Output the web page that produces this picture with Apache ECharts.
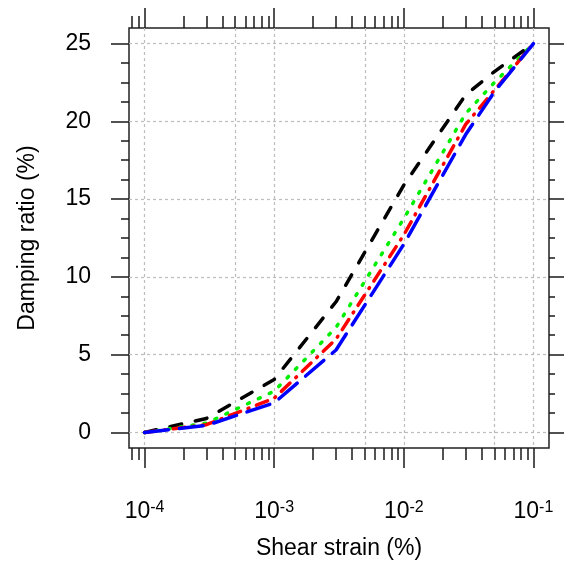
<!DOCTYPE html>
<html>
<head>
<meta charset="utf-8">
<script src="https://cdn.jsdelivr.net/npm/echarts@6/dist/echarts.min.js"></script>
<style>
html,body{margin:0;padding:0;background:#fff;}
#chart{width:566px;height:565px;}
</style>
</head>
<body>
<div id="chart"></div>
<script>
// ---- data ----
const strains = [1e-4, 3e-4, 1e-3, 3e-3, 1e-2, 3e-2, 5e-2, 1e-1];
const dampBlack = [0, 0.9, 3.4, 8.4, 15.9, 21.7, 23.2, 25];
const dampGreen = [0, 0.6, 2.65, 6.75, 13.75, 20.5, 22.5, 25];
const dampRed   = [0, 0.5, 2.2, 6.0, 12.7, 19.8, 22.0, 25];
const dampBlue  = [0, 0.45, 1.9, 5.3, 12.1, 19.15, 21.9, 25];

const xMajorTicks = [1e-4, 1e-3, 1e-2, 1e-1];
const xMinorTicks = [8e-5, 9e-5,
  2e-4, 3e-4, 4e-4, 5e-4, 6e-4, 7e-4, 8e-4, 9e-4,
  2e-3, 3e-3, 4e-3, 5e-3, 6e-3, 7e-3, 8e-3, 9e-3,
  2e-2, 3e-2, 4e-2, 5e-2, 6e-2, 7e-2, 8e-2, 9e-2];
const xGridValues = [1e-4, 5e-4, 1e-3, 5e-3, 1e-2, 5e-2, 1e-1];
const yMajorTicks = [0, 5, 10, 15, 20, 25];
const yMinorTicks = [1.25, 2.5, 3.75, 6.25, 7.5, 8.75, 11.25, 12.5, 13.75,
  16.25, 17.5, 18.75, 21.25, 22.5, 23.75];

const xMin = Math.pow(10, -4.12), xMax = Math.pow(10, -0.88);
const yMin = -1, yMax = 26;

const FONT = 'Liberation Sans, Arial, sans-serif';
const tickColor = '#1a1a1a';

function pairs(ys) { return strains.map((s, i) => [s, ys[i]]); }

function xAx(extra) {
  return Object.assign({
    type: 'log', logBase: 10, min: xMin, max: xMax, gridIndex: 0,
    axisLine: { show: false, onZero: false },
    axisLabel: { show: false },
    splitLine: { show: false },
    axisTick: { show: false }
  }, extra);
}
function yAx(extra) {
  return Object.assign({
    type: 'value', min: yMin, max: yMax, gridIndex: 0,
    axisLine: { show: false, onZero: false },
    axisLabel: { show: false },
    splitLine: { show: false },
    axisTick: { show: false }
  }, extra);
}

const chart = echarts.init(document.getElementById('chart'), null, { renderer: 'canvas' });
const option = {
  animation: false,
  backgroundColor: '#fff',
  grid: {
    left: 129, right: 17, top: 28, bottom: 117,
    show: true, borderColor: '#222', borderWidth: 1.5, backgroundColor: 'transparent',
    containLabel: false, outerBoundsMode: 'none'
  },
  xAxis: [
    xAx({
      position: 'bottom',
      name: 'Shear strain (%)', nameLocation: 'middle', nameGap: 89,
      nameTextStyle: { fontSize: 23, color: '#000', fontFamily: FONT },
      axisTick: { show: true, inside: false, length: 20, customValues: xMajorTicks,
        lineStyle: { color: tickColor, width: 1.5 } },
      axisLabel: {
        show: true, margin: 52, customValues: xMajorTicks,
        formatter: function (v) {
          const e = Math.round(Math.log10(v));
          return '{b|10}{s|' + e + '}';
        },
        rich: {
          b: { fontSize: 23, fontFamily: FONT, color: '#000', verticalAlign: 'bottom' },
          s: { fontSize: 16, fontFamily: FONT, color: '#000', verticalAlign: 'top' }
        }
      }
    }),
    xAx({ position: 'bottom',
      axisTick: { show: true, inside: false, length: 12, customValues: xMinorTicks,
        lineStyle: { color: tickColor, width: 1.5 } } }),
    xAx({ position: 'top',
      axisTick: { show: true, inside: false, length: 20, customValues: xMajorTicks,
        lineStyle: { color: tickColor, width: 1.5 } } }),
    xAx({ position: 'top',
      axisTick: { show: true, inside: false, length: 12, customValues: xMinorTicks,
        lineStyle: { color: tickColor, width: 1.5 } } }),
    xAx({ position: 'bottom',
      axisTick: { show: false, customValues: xGridValues },
      splitLine: { show: true, lineStyle: { color: '#bdbdbd', width: 1.2, type: [3, 3] } } })
  ],
  yAxis: [
    yAx({
      position: 'left',
      name: 'Damping ratio (%)', nameLocation: 'middle', nameGap: 90,
      nameTextStyle: { fontSize: 23, color: '#000', fontFamily: FONT },
      axisTick: { show: true, inside: false, length: 18, customValues: yMajorTicks,
        lineStyle: { color: tickColor, width: 1.5 } },
      axisLabel: { show: true, margin: 38, customValues: yMajorTicks,
        fontSize: 23, fontFamily: FONT, color: '#000' },
      splitLine: { show: true, lineStyle: { color: '#bdbdbd', width: 1.2, type: [3, 3] } }
    }),
    yAx({ position: 'left',
      axisTick: { show: true, inside: false, length: 8, customValues: yMinorTicks,
        lineStyle: { color: tickColor, width: 1.5 } } }),
    yAx({ position: 'right',
      axisTick: { show: true, inside: false, length: 15, customValues: yMajorTicks,
        lineStyle: { color: tickColor, width: 1.5 } } }),
    yAx({ position: 'right',
      axisTick: { show: true, inside: false, length: 6, customValues: yMinorTicks,
        lineStyle: { color: tickColor, width: 1.5 } } })
  ],
  series: [
    { name: 'black', type: 'line', xAxisIndex: 0, yAxisIndex: 0, data: pairs(dampBlack),
      symbol: 'none', lineStyle: { color: '#000000', width: 3.5, type: [12, 14], cap: 'round' } },
    { name: 'green', type: 'line', xAxisIndex: 0, yAxisIndex: 0, data: pairs(dampGreen),
      symbol: 'none', lineStyle: { color: '#00ee00', width: 3.5, type: [2, 10], cap: 'round' } },
    { name: 'red', type: 'line', xAxisIndex: 0, yAxisIndex: 0, data: pairs(dampRed),
      symbol: 'none', lineStyle: { color: '#ff0000', width: 3.5, type: [12, 8, 1, 8], cap: 'round' } },
    { name: 'blue', type: 'line', xAxisIndex: 0, yAxisIndex: 0, data: pairs(dampBlue),
      symbol: 'none', lineStyle: { color: '#0000ff', width: 3.5, type: [24, 11], cap: 'round' } }
  ]
};
chart.setOption(option);
</script>
</body>
</html>
